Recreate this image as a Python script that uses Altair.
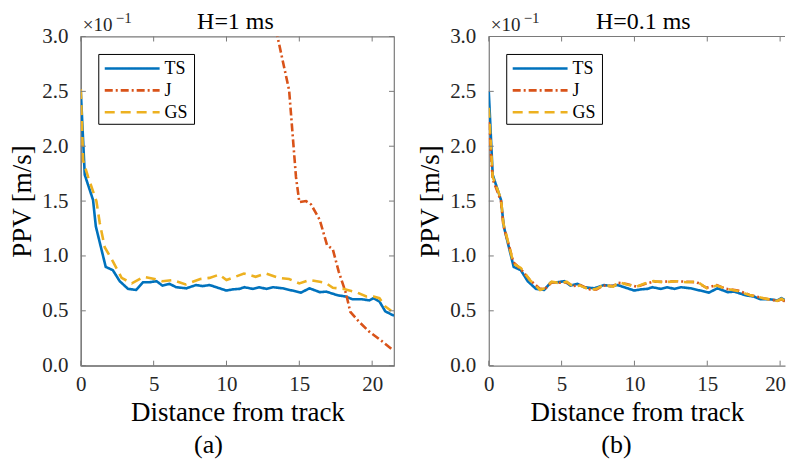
import altair as alt
import pandas as pd

FONT = "Liberation Serif"
AX = "#7a7a7a"
NAMES = ["TS", "J", "GS"]
COLORS = ["#0072BD", "#D95319", "#EDB120"]
DASHES = [[1, 0], [8, 3, 2, 3], [10, 6]]

X_TICKS = [0, 5, 10, 15, 20]
Y_TICKS = [0.0, 0.5, 1.0, 1.5, 2.0, 2.5, 3.0]

# ---- panel (a): H = 1 ms ----
ts_x = [0, 0.27, 0.84, 1.03, 1.71, 2.2, 2.67, 3.24, 3.8, 4.27, 4.7, 5.2, 5.6, 6.1, 6.55, 7.24,
        7.92, 8.37, 8.84, 9.3, 9.98, 10.44, 10.9, 11.23, 11.8, 12.26, 12.72, 13.2, 13.85, 14.5,
        15.1, 15.7, 16.4, 16.85, 17.3, 17.7, 18.2, 18.65, 19.3, 19.8, 20.1, 20.5, 20.9, 21.5]
ts_y = [2.50, 1.74, 1.51, 1.27, 0.90, 0.87, 0.77, 0.70, 0.69, 0.76, 0.76, 0.77, 0.73, 0.745,
        0.715, 0.705, 0.735, 0.725, 0.735, 0.715, 0.685, 0.695, 0.70, 0.715, 0.70, 0.715, 0.70,
        0.715, 0.705, 0.685, 0.665, 0.705, 0.67, 0.675, 0.655, 0.64, 0.63, 0.605, 0.605, 0.595,
        0.615, 0.585, 0.495, 0.455]

j_a_x = [12.9, 13.5, 14.3, 14.77, 15.0, 15.46, 15.8, 16.4, 16.9, 17.3, 17.7, 18.2, 18.5, 19.1,
         19.8, 20.7, 21.4]
j_a_y = [3.35, 3.0, 2.51, 1.72, 1.49, 1.50, 1.47, 1.33, 1.10, 1.06, 0.86, 0.66, 0.49, 0.40,
         0.31, 0.22, 0.145]

gs_a_x = [0, 0.16, 0.5, 1.07, 1.3, 1.64, 2.2, 2.8, 3.5, 4.3, 5.06, 5.6, 6.3, 7.2, 8.2, 8.84,
          9.5, 10.0, 10.4, 11.2, 12.0, 12.7, 13.6, 14.3, 15.0, 15.7, 16.4, 16.8, 17.3, 18.0,
          18.9, 19.6, 20.1, 20.5, 20.9, 21.3]
gs_a_y = [2.52, 1.87, 1.72, 1.50, 1.30, 1.08, 0.95, 0.80, 0.75, 0.81, 0.79, 0.77, 0.78, 0.74,
          0.79, 0.80, 0.83, 0.78, 0.80, 0.84, 0.81, 0.84, 0.80, 0.79, 0.75, 0.78, 0.765, 0.755,
          0.71, 0.70, 0.67, 0.63, 0.63, 0.615, 0.54, 0.50]

# ---- panel (b): H = 0.1 ms ----
ts_b_x = ts_x
ts_b_y = ts_y

gs_b_x = [0, 0.27, 0.84, 1.0, 1.7, 2.2, 2.83, 3.52, 3.86, 4.32, 4.9, 5.35, 5.8, 6.27, 6.95, 7.4,
          7.87, 8.55, 8.9, 9.47, 10.16, 10.7, 11.3, 12.0, 12.9, 13.6, 14.3, 14.96, 15.65, 16.3,
          17.1, 17.9, 18.85, 19.8, 20.1, 20.7, 21.0, 21.5]
gs_b_y = [2.35, 1.72, 1.52, 1.30, 0.93, 0.89, 0.78, 0.69, 0.706, 0.766, 0.75, 0.766, 0.72, 0.73,
          0.69, 0.70, 0.736, 0.72, 0.76, 0.74, 0.72, 0.75, 0.77, 0.76, 0.77, 0.76, 0.766, 0.706,
          0.73, 0.70, 0.68, 0.645, 0.615, 0.59, 0.61, 0.555, 0.49, 0.45]

j_b_x = gs_b_x
j_b_y = [2.22, 1.70, 1.50, 1.28, 0.94, 0.88, 0.78, 0.70, 0.70, 0.76, 0.755, 0.76, 0.725, 0.735,
         0.695, 0.695, 0.73, 0.725, 0.755, 0.745, 0.72, 0.745, 0.765, 0.765, 0.77, 0.765, 0.76,
         0.71, 0.735, 0.70, 0.685, 0.645, 0.615, 0.59, 0.605, 0.555, 0.49, 0.45]

PX_PER_UNIT = 314 / 21.5


def long_df(parts):
    rows = []
    for name, xs, ys in parts:
        for xv, yv in zip(xs, ys):
            rows.append({"series": name, "x": xv, "y": yv})
    return pd.DataFrame(rows)


def one(text):
    return pd.DataFrame({"t": [text]})


def panel(parts, title, caption, caption_x, width, height, xmax, full_box):
    df = long_df(parts)
    xsc = alt.Scale(domain=[0, xmax], nice=False, zero=False)
    ysc = alt.Scale(domain=[0, 3], nice=False)
    xaxis_kw = dict(values=X_TICKS, format="d", title="Distance from track",
                    labelFlush=False, labelPadding=8, titlePadding=5)
    if not full_box:
        xaxis_kw["labelOffset"] = {"condition": {"test": "datum.value == 20", "value": -5},
                                   "value": 0}
    xaxis = alt.Axis(**xaxis_kw)
    yaxis = alt.Axis(values=Y_TICKS, format=".1f", title="PPV [m/s]",
                     labelFlush=False, labelPadding=13, titlePadding=5, labelOverlap=False)
    layers = []
    for name, col, dash in zip(NAMES, COLORS, DASHES):
        layers.append(
            alt.Chart(df).transform_filter(alt.datum.series == name)
            .mark_line(clip=True, strokeWidth=2.6, color=col, strokeDash=dash)
            .encode(x=alt.X("x:Q", scale=xsc, axis=xaxis),
                    y=alt.Y("y:Q", scale=ysc, axis=yaxis))
        )
    xt = pd.DataFrame({"x": [v for v in X_TICKS if v <= xmax]})
    yt = pd.DataFrame({"y": Y_TICKS})
    deco = [
        alt.Chart(xt).mark_rule(color=AX).encode(
            x=alt.X("x:Q", scale=xsc, axis=xaxis), y=alt.value(height), y2=alt.value(height - 5)),
        alt.Chart(xt).mark_rule(color=AX).encode(
            x=alt.X("x:Q", scale=xsc, axis=xaxis), y=alt.value(0), y2=alt.value(5)),
        alt.Chart(yt).mark_rule(color=AX).encode(
            y=alt.Y("y:Q", scale=ysc, axis=yaxis), x=alt.value(0), x2=alt.value(5)),
    ]
    if full_box:
        deco.append(alt.Chart(yt).mark_rule(color=AX).encode(
            y=alt.Y("y:Q", scale=ysc, axis=yaxis), x=alt.value(width), x2=alt.value(width - 5)))
    else:
        deco.append(alt.Chart(one("")).mark_rule(color=AX, strokeWidth=1.2).encode(
            x=alt.value(0), x2=alt.value(width), y=alt.value(0)))

    # legend (drawn as decoration inside the plot)
    leg = [alt.Chart(one("")).mark_rect(fill="white", stroke="black", strokeWidth=1).encode(
        x=alt.value(18), x2=alt.value(114), y=alt.value(18), y2=alt.value(88))]
    for i, (name, col, dash) in enumerate(zip(NAMES, COLORS, DASHES)):
        yy = 32 + 22 * i
        leg.append(alt.Chart(one(name)).mark_rule(color=col, strokeWidth=2.6, strokeDash=dash)
                   .encode(x=alt.value(24), x2=alt.value(79), y=alt.value(yy)))
        leg.append(alt.Chart(one(name)).mark_text(font=FONT, fontSize=18, align="left",
                                                  baseline="middle", color="black")
                   .encode(x=alt.value(84), y=alt.value(yy + 1), text="t:N"))

    mult = alt.Chart(one("×10")).mark_text(
        font=FONT, fontSize=19, align="left", baseline="alphabetic", color="#262626"
    ).encode(x=alt.value(2), y=alt.value(-6), text="t:N")
    expo = alt.Chart(one("−1")).mark_text(
        font=FONT, fontSize=15, align="left", baseline="alphabetic", color="#262626"
    ).encode(x=alt.value(35), y=alt.value(-14), text="t:N")
    ttl = alt.Chart(one(title)).mark_text(
        font=FONT, fontSize=24, align="center", baseline="alphabetic", color="black"
    ).encode(x=alt.value(155), y=alt.value(-8), text="t:N")
    cap = alt.Chart(one(caption)).mark_text(
        font=FONT, fontSize=26, align="center", baseline="middle", color="black"
    ).encode(x=alt.value(caption_x), y=alt.value(410), text="t:N")
    ch = alt.layer(*layers, *deco, *leg, mult, expo, ttl, cap).properties(
        width=width, height=height)
    if not full_box:
        ch = ch.properties(view=alt.ViewBackground(stroke="transparent"))
    return ch


RIGHT_W = 297
left = panel([("TS", ts_x, ts_y), ("J", j_a_x, j_a_y), ("GS", gs_a_x, gs_a_y)],
             "H=1 ms", "(a)", 128, 314, 330, 21.5, True)
right = panel([("TS", ts_b_x, ts_b_y), ("J", j_b_x, j_b_y), ("GS", gs_b_x, gs_b_y)],
              "H=0.1 ms", "(b)", 128, RIGHT_W, 330, RIGHT_W / PX_PER_UNIT, False)

chart = (
    alt.hconcat(left, right, spacing=20)
    .resolve_scale(x="independent", y="independent")
    .properties(padding={"left": 0, "top": 0, "right": 0, "bottom": 0}, background="white")
    .configure_axis(labelFont=FONT, labelFontSize=21, labelColor="#262626", titleFont=FONT,
                    titleFontSize=27, titleFontWeight="normal", titleColor="black",
                    ticks=False, grid=False, domainColor=AX, domainWidth=1.2)
    .configure_view(stroke=AX, strokeWidth=1.2)
)

chart.save("out.html", embed_options={"renderer": "svg", "actions": False})
